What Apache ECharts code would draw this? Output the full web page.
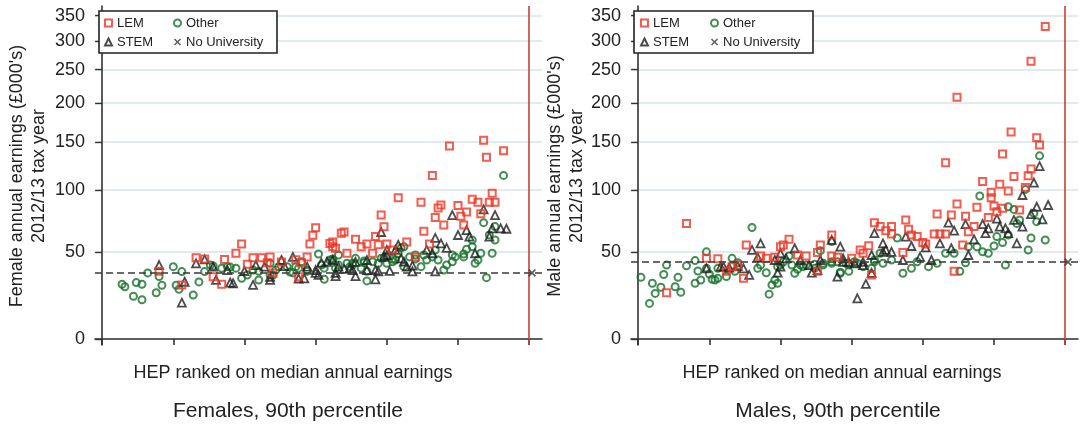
<!DOCTYPE html>
<html><head><meta charset="utf-8">
<script src="https://cdn.jsdelivr.net/npm/echarts@6/dist/echarts.min.js"></script>
<style>html,body{margin:0;padding:0;background:#fff}#c{width:1080px;height:424px}</style>
</head><body><div id="c"></div>
<script>
// ---- tick labels ----
const yTicks = [0, 50, 100, 150, 200, 250, 300, 350];
const xTicks = [0, 25, 50, 75, 100, 125, 150];
const redLineRank = 150;

// ---- Females, 90th percentile: [HEP rank, earnings £000s] ----
const femLEM = [[20,37],[28,28.6],[33,46],[36,45],[39,33.5],[42,29],[43,44.7],[47,49],[49,55.5],[51,41.5],[53,46],[56,46],[58,42.5],[59,46.5],[60,36],[63,43],[68,44.5],[69,33.5],[70,42.5],[72,46.5],[73,55.5],[74,62],[75,67.7],[80,56],[81,57],[81,53.5],[82,52.5],[84,63.5],[85,64.5],[86,49],[89,59],[91,53.5],[93,55.5],[95,49],[96,61],[97,55],[98,78],[99,68.5],[100,55.5],[102,51.3],[104,93],[107,57],[110,46.5],[112,89],[113,65],[115,55.5],[116,114],[117,76],[118,84],[119,86.5],[120,70],[122,145.5],[125,86],[126,77],[127,70],[128,80.5],[130,91.5],[132,89],[133,79],[134,152],[135,133],[136,89],[137,97],[138,89],[141,140]];
const femSTEM = [[20,41],[28,18.4],[29,30.5],[33,42.2],[36,44.8],[39,40],[40,31.6],[44,37.8],[45,30],[46,29.6],[50,37.2],[53,28.6],[54,41],[57,40],[59,31.6],[59,33.5],[63,44.4],[64,40.4],[67,46.5],[69,32.5],[71,32.6],[72,40],[75,36],[75,37.8],[76,34.7],[77,42.7],[79,43.2],[81,44.4],[82,34],[82,36],[83,40],[85,38.5],[87,39],[88,37.8],[89,34],[89,43.2],[93,37.8],[93,44.4],[96,32],[96,37.8],[97,37],[98,64.5],[99,46.5],[100,47.8],[100,51.3],[101,37.3],[103,51.3],[104,55],[105,45.5],[106,43.3],[107,40],[109,40.7],[109,37],[114,51.3],[116,49],[117,60],[117,37],[119,56],[121,52.8],[123,78],[125,62.2],[128,66],[129,61],[131,49],[134,82.7],[136,61],[137,67.3],[138,78],[140,67.3],[142,67]];
const femOther = [[7,29],[8,27.5],[11,22],[12,30],[14,20],[14,29],[16,36],[19,24],[20,33.7],[21,28.4],[25,40],[26,28.4],[27,26],[28,36.8],[32,22.7],[34,30.4],[36,36.8],[38,41],[39,40.4],[42,39],[44,40],[45,39.7],[47,39],[49,32.6],[51,34.7],[53,37.8],[55,31.6],[55,37],[59,34.7],[59,42.2],[60,34.7],[61,37.8],[62,40],[65,40],[66,36.5],[67,36],[68,40],[69,39],[70,43.2],[72,37.8],[72,37],[76,48.5],[77,41],[78,32],[78,39],[80,44.4],[81,45],[81,44.8],[82,39],[83,41],[83,47.8],[86,42.2],[87,40],[88,41],[88,42.2],[89,45.5],[91,39],[92,43.8],[92,42.6],[93,31],[93,37],[95,43.2],[97,42.2],[98,45.5],[99,46],[100,42.2],[102,45],[102,43.2],[103,44.4],[104,48.8],[105,52.8],[106,53.6],[106,40],[108,46.5],[110,45],[110,47.8],[112,40],[113,47.8],[114,44.4],[116,46.5],[117,51.3],[118,44.4],[120,37.8],[121,41.1],[123,43.2],[123,47.8],[124,46.5],[127,48.5],[127,46.5],[128,51.8],[130,53.6],[130,58.5],[131,42.2],[132,44.4],[133,49],[134,71.8],[135,33],[136,62.2],[137,49],[138,58.5],[138,68.7],[141,114]];
const femNoUni = [[151,36]];

// ---- Males, 90th percentile ----
const maleLEM = [[10,24],[17,71.2],[24,45.5],[28,45.3],[31,37],[33,40],[35,41],[37,32.6],[38,54.8],[43,47.1],[45,45.5],[48,46.2],[50,53.6],[51,54.8],[53,59],[56,47.8],[59,47.1],[63,37],[63,49.5],[64,54.8],[68,62.2],[68,47.1],[70,46.2],[75,45.5],[78,51.3],[79,49],[81,54.3],[82,34.7],[83,71.8],[85,68.7],[87,65.5],[89,68.7],[89,63],[93,49.5],[94,74],[95,66.6],[96,62.2],[98,61],[100,56.6],[101,55.5],[104,63],[105,78.8],[106,63],[108,63],[108,127],[110,78],[111,37],[112,87.4],[112,208],[114,54.8],[115,77],[116,64.7],[118,68.7],[119,84.6],[121,108],[123,76],[124,93],[124,98],[125,85.6],[126,80.8],[127,105.5],[128,136.5],[128,83.7],[130,99],[131,162],[132,113],[134,82.2],[136,102.4],[137,113.7],[138,120.5],[138,264],[140,155],[141,146.5],[143,328]];
const maleSTEM = [[24,38.9],[29,40],[30,40],[32,39.4],[35,40.5],[37,38.9],[39,34.7],[40,51.3],[42,46.2],[43,56],[48,44.4],[49,36.1],[50,49],[50,40],[52,45.5],[55,52.5],[57,44.4],[60,41],[61,36.1],[63,37.8],[64,44.4],[68,58.5],[70,33.7],[71,53.6],[72,45.5],[72,43.2],[74,43],[76,42.2],[77,20.8],[79,43.2],[79,41],[80,29.2],[82,36],[82,47.8],[83,63.6],[86,56],[86,50],[87,51.3],[89,50],[93,44.4],[94,61],[96,54.1],[99,46.5],[101,53.2],[103,44.4],[106,56],[109,71.8],[110,52.5],[111,65.5],[115,70.7],[116,47.8],[118,59],[121,70.7],[122,63.6],[123,67.3],[126,75],[127,68.7],[129,67.3],[130,63.6],[132,74],[133,56],[135,68.7],[135,95.4],[138,78.8],[139,107],[140,85],[141,123.4],[142,74.5],[144,86.5]];
const maleOther = [[1,33.2],[4,18],[5,29.6],[6,23.6],[8,27.2],[9,35],[10,41],[13,27.5],[14,33.2],[15,24.3],[17,40.6],[20,29.6],[20,44],[21,37.2],[22,31.6],[24,50],[24,38.9],[25,35.3],[26,32],[27,31.6],[28,32.6],[28,38.9],[31,33.7],[33,45.5],[34,37],[35,42.6],[40,68],[42,38.9],[43,41],[45,36.1],[46,23.2],[47,28.6],[48,31.6],[49,29.6],[49,40],[50,41],[51,43.2],[53,47.1],[54,41],[55,35.8],[56,38.3],[57,41],[58,40],[59,41],[62,38.9],[62,41.5],[64,50.8],[65,41],[65,42.2],[68,57.3],[68,43.2],[68,42.2],[70,43.2],[71,36.4],[71,35.8],[73,42.2],[74,41],[74,37],[76,43.2],[77,42.2],[79,40],[82,39],[83,44.4],[83,43.2],[85,49],[86,42.2],[89,44.4],[91,60],[93,35.8],[96,38.9],[98,43.2],[102,40],[105,42.2],[108,49],[111,49],[113,37],[115,42.6],[116,53.6],[119,53.6],[120,94.5],[121,50],[123,49],[125,54.1],[126,61],[128,56.6],[129,41],[130,62.2],[130,85],[132,82.7],[133,71.2],[134,74],[136,100.5],[137,51.3],[138,60],[139,79.4],[140,72.6],[141,134.4],[143,58.5]];
const maleNoUni = [[151,43]];

// ---- styling ----
const FONT = '"Liberation Sans", Arial, Helvetica, sans-serif';
const RED = '#ee3424', GREEN = '#15702a', DARK = '#1e1e1e', RED_LINE = '#c4413a', GRID = '#d4e4e6';
const XPATH = 'path://M0,1.5L1.5,0L5,3.5L8.5,0L10,1.5L6.5,5L10,8.5L8.5,10L5,6.5L1.5,10L0,8.5L3.5,5Z';

// transformed earnings scale: y = ln(1 + v/100)
const T = v => Math.log(1 + v / 100);
const pts = arr => arr.map(([r, v]) => [r, T(v)]);
const yTT = yTicks.map(T);

function axes(g) {
  return {
    x: {
      type: 'value', gridIndex: g, min: -2.5, max: 154.5,
      axisLine: { show: true, lineStyle: { color: '#333', width: 1.6 } },
      axisTick: { show: true, customValues: xTicks, length: 6, lineStyle: { color: '#333', width: 1.6 } },
      axisLabel: { show: false },
      splitLine: { show: false }
    },
    y: {
      type: 'value', gridIndex: g, min: -0.028, max: 1.549,
      axisLine: { show: true, lineStyle: { color: '#333', width: 1.6 } },
      axisTick: { show: true, customValues: yTT, length: 7, lineStyle: { color: '#333', width: 1.4 } },
      axisLabel: { customValues: yTT, margin: 10, fontSize: 18, color: '#222', fontFamily: FONT,
        formatter: v => String(Math.round(100 * (Math.exp(v) - 1))) },
      splitLine: { show: true, lineStyle: { color: GRID, width: 1.5 } }
    }
  };
}
const a0 = axes(0), a1 = axes(1);

function panelSeries(g, lem, stem, other, nouni) {
  const common = { type: 'scatter', xAxisIndex: g, yAxisIndex: g, emphasis: { disabled: true } };
  return [
    Object.assign({}, common, { name: 'Other', data: pts(other), symbol: 'circle', symbolSize: 7,
      itemStyle: { color: 'rgba(255,255,255,0)', borderColor: GREEN, borderWidth: 2 }, z: 2 }),
    Object.assign({}, common, { name: 'STEM', data: pts(stem), symbol: 'triangle', symbolSize: 8,
      itemStyle: { color: 'rgba(255,255,255,0)', borderColor: DARK, borderWidth: 1.8 }, z: 3 }),
    Object.assign({}, common, { name: 'LEM', data: pts(lem), symbol: 'rect', symbolSize: 7,
      itemStyle: { color: 'rgba(255,255,255,0)', borderColor: RED, borderWidth: 2 }, z: 4 }),
    Object.assign({}, common, { name: 'No University', data: pts(nouni), symbol: XPATH, symbolSize: 8,
      itemStyle: { color: '#333' }, z: 5,
      markLine: { silent: true, symbol: ['none', 'none'], label: { show: false }, animation: false,
        data: [
          { xAxis: redLineRank, lineStyle: { color: RED_LINE, width: 1.6, type: 'solid' } },
          { yAxis: T(nouni[0][1]), lineStyle: { color: '#3a3a3a', width: 1.6, type: [7, 4] } }
        ] } })
  ];
}

function legendCol(left, names) {
  return { left: left, top: 16, orient: 'vertical', data: names, itemWidth: 7, itemHeight: 7,
    itemGap: 5, padding: 0, selectedMode: false, z: 6,
    textStyle: { fontSize: 13, color: '#222', fontFamily: FONT, lineHeight: 14 } };
}

const textEl = (x, y, text, size, rot) => ({
  type: 'text', x: x, y: y, rotation: rot || 0, z: 10,
  style: { text: text, fill: '#222', font: size + 'px ' + FONT, align: 'center', verticalAlign: 'middle', lineHeight: 22 }
});

const chart = echarts.init(document.getElementById('c'), null, { renderer: 'canvas' });
chart.setOption({
  animation: false,
  backgroundColor: '#fff',
  grid: [
    { left: 95, top: 6, width: 447, height: 339 },
    { left: 631, top: 6, width: 447, height: 339 }
  ],
  xAxis: [a0.x, a1.x],
  yAxis: [a0.y, a1.y],
  legend: [
    legendCol(104, ['LEM', 'STEM']), legendCol(173, ['Other', 'No University']),
    legendCol(640, ['LEM', 'STEM']), legendCol(710, ['Other', 'No University'])
  ],
  graphic: [
    { type: 'rect', z: 5, shape: { x: 99, y: 11, width: 178, height: 42 }, style: { fill: '#fff', stroke: '#222', lineWidth: 1.6 } },
    { type: 'rect', z: 5, shape: { x: 634, y: 11, width: 179, height: 42 }, style: { fill: '#fff', stroke: '#222', lineWidth: 1.6 } },
    textEl(28, 176, "Female annual earnings (£000's)\n2012/13 tax year", 18, Math.PI / 2),
    textEl(566, 176, "Male annual earnings (£000's)\n2012/13 tax year", 18, Math.PI / 2),
    textEl(293, 373, 'HEP ranked on median annual earnings', 18),
    textEl(842, 373, 'HEP ranked on median annual earnings', 18),
    textEl(288, 411, 'Females, 90th percentile', 21),
    textEl(838, 411, 'Males, 90th percentile', 21)
  ],
  series: [].concat(
    panelSeries(0, femLEM, femSTEM, femOther, femNoUni),
    panelSeries(1, maleLEM, maleSTEM, maleOther, maleNoUni)
  )
});
</script></body></html>
